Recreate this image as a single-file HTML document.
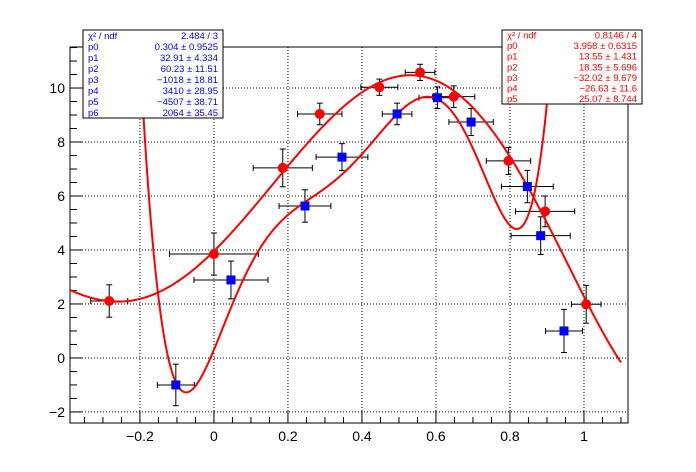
<!DOCTYPE html>
<html><head><meta charset="utf-8">
<style>
html,body{margin:0;padding:0;background:#fff;}
svg{display:block;font-family:"Liberation Sans",sans-serif;}
</style></head>
<body>
<svg id="c" width="696" height="472"></svg>
<script>
const redX=[-0.283,0,0.186,0.286,0.447,0.557,0.648,0.796,0.895,1.006];
const redY=[2.11,3.85,7.04,9.04,10.03,10.58,9.68,7.3,5.43,1.99];
const redEX=[0.05,0.12,0.08,0.06,0.05,0.04,0.057,0.06,0.08,0.04];
const redEY=[0.6,0.78,0.7,0.4,0.3,0.3,0.4,0.5,0.57,0.7];
const blueX=[-0.103,0.046,0.246,0.346,0.495,0.604,0.695,0.847,0.883,0.946];
const blueY=[-1.0,2.89,5.63,7.44,9.04,9.64,8.74,6.35,4.53,1.0];
const blueEX=[0.05,0.1,0.07,0.07,0.04,0.05,0.06,0.07,0.08,0.05];
const blueEY=[0.77,0.7,0.6,0.5,0.4,0.4,0.5,0.6,0.7,0.8];
const redPar=[3.958,13.55,18.35,-32.02,-26.63,25.07];
const bluePar=[0.304,32.91,60.23,-1018,3410,-4507,2064];
const xTicks=[-0.2,0,0.2,0.4,0.6,0.8,1];
const xTickLabels=["\u22120.2","0","0.2","0.4","0.6","0.8","1"];
const yTicks=[-2,0,2,4,6,8,10];
const yTickLabels=["\u22122","0","2","4","6","8","10"];
const blueStats=[["\u03C7\u00B2 / ndf","2.484 / 3"],["p0","0.304 \u00B1 0.9525"],["p1","32.91 \u00B1 4.334"],["p2","60.23 \u00B1 11.51"],["p3","\u22121018 \u00B1 18.81"],["p4","3410 \u00B1 28.95"],["p5","\u22124507 \u00B1 38.71"],["p6","2064 \u00B1 35.45"]];
const redStats=[["\u03C7\u00B2 / ndf","0.8146 / 4"],["p0","3.958 \u00B1 0.6315"],["p1","13.55 \u00B1 1.431"],["p2","18.35 \u00B1 5.696"],["p3","\u221232.02 \u00B1 9.679"],["p4","\u221226.63 \u00B1  11.6"],["p5","25.07 \u00B1 8.744"]];

const L=70,R=628,T=47,B=423;
const xmin=-0.389,xmax=1.119,ymin=-2.41,ymax=11.52;
const fmax=1.1;
const sx=v=>L+(v-xmin)/(xmax-xmin)*(R-L);
const sy=v=>B-(v-ymin)/(ymax-ymin)*(B-T);
const NS="http://www.w3.org/2000/svg";
const svg=document.getElementById('c');
function mk(tag,attrs,parent){const e=document.createElementNS(NS,tag);for(const k in attrs)e.setAttribute(k,attrs[k]);(parent||svg).appendChild(e);return e;}
const defs=mk('defs',{});
const cp=mk('clipPath',{id:'fr'},defs);mk('rect',{x:L,y:T,width:R-L,height:B-T},cp);

const grid=mk('g',{stroke:'#000','stroke-width':1,'stroke-dasharray':'1,2'});


xTicks.forEach(v=>mk('line',{x1:sx(v),x2:sx(v),y1:T,y2:B},grid));
yTicks.forEach(v=>mk('line',{x1:L,x2:R,y1:sy(v),y2:sy(v)},grid));

const ax=mk('g',{stroke:'#000','stroke-width':1});


for(let v=-0.35;v<=1.1001;v+=0.05){const vv=Math.round(v*100)/100;const maj=Math.abs(vv*5-Math.round(vv*5))<1e-6;mk('line',{x1:sx(vv),x2:sx(vv),y1:B,y2:B-(maj?12:6)},ax);}
for(let v=-2;v<=11.5001;v+=0.5){const maj=Math.abs(v/2-Math.round(v/2))<1e-6;mk('line',{x1:L,x2:L+(maj?12:7),y1:sy(v),y2:sy(v)},ax);}
const frame=mk('rect',{x:L,y:T,width:R-L,height:B-T,fill:'none',stroke:'#000','stroke-width':1});



xTicks.forEach((v,i)=>{const t=mk('text',{x:sx(v),y:B+18,'text-anchor':'middle','font-size':14,fill:'#000'});t.textContent=xTickLabels[i];

});
yTicks.forEach((v,i)=>{const t=mk('text',{x:L-5,y:sy(v)+5,'text-anchor':'end','font-size':14,fill:'#000'});t.textContent=yTickLabels[i];

});

function poly(p,x){let s=0;for(let i=p.length-1;i>=0;i--)s=s*x+p[i];return s;}
function curve(p,name){let d='';const n=600;for(let i=0;i<=n;i++){const x=xmin+(fmax-xmin)*i/n;let y=poly(p,x);y=Math.max(Math.min(y,40),-40);d+=(i?'L':'M')+sx(x).toFixed(2)+','+sy(y).toFixed(2);}
const pa=mk('path',{d:d,fill:'none',stroke:'#ff0000','stroke-width':2,'clip-path':'url(#fr)'});

}

function errs(X,Y,EX,EY,name){const g=mk('g',{stroke:'#000','stroke-width':1});


X.forEach((x,i)=>{const cx=sx(x),cy=sy(Y[i]);const x1=sx(x-EX[i]),x2=sx(x+EX[i]),y1=sy(Y[i]+EY[i]),y2=sy(Y[i]-EY[i]);
mk('line',{x1:x1,x2:x2,y1:cy,y2:cy},g);mk('line',{x1:cx,x2:cx,y1:y1,y2:y2},g);
mk('line',{x1:x1,x2:x1,y1:cy-3,y2:cy+3},g);mk('line',{x1:x2,x2:x2,y1:cy-3,y2:cy+3},g);
mk('line',{x1:cx-3,x2:cx+3,y1:y1,y2:y1},g);mk('line',{x1:cx-3,x2:cx+3,y1:y2,y2:y2},g);});}

errs(blueX,blueY,blueEX,blueEY,'blue-error-bars');
errs(redX,redY,redEX,redEY,'red-error-bars');
curve(bluePar,'blue-fit-curve');
curve(redPar,'red-fit-curve');
blueX.forEach((x,i)=>{const r=mk('rect',{x:sx(x)-4.5,y:sy(blueY[i])-4.5,width:9,height:9,fill:'#0000ff'});

});
redX.forEach((x,i)=>{const c=mk('circle',{cx:sx(x),cy:sy(redY[i]),r:5,fill:'#ff0000'});

});

function statbox(x,y,w,h,rows,col,name){const g=mk('g',{});


mk('rect',{x:x,y:y,width:w,height:h,fill:'#fff',stroke:'#000','stroke-width':1},g);
const pitch=h/rows.length;
rows.forEach((r,i)=>{const by=y+pitch*(i+0.5)+3.3;
const a=mk('text',{x:x+5,y:by,'font-size':9.5,fill:col},g);a.textContent=r[0];
const b=mk('text',{x:x+w-5,y:by,'font-size':9.5,fill:col,'text-anchor':'end'},g);b.textContent=r[1];});}
statbox(83,30,140,88,blueStats,'#0000ff','blue-stats-box');
statbox(502,30,140,74,redStats,'#ff0000','red-stats-box');
</script>
</body></html>
